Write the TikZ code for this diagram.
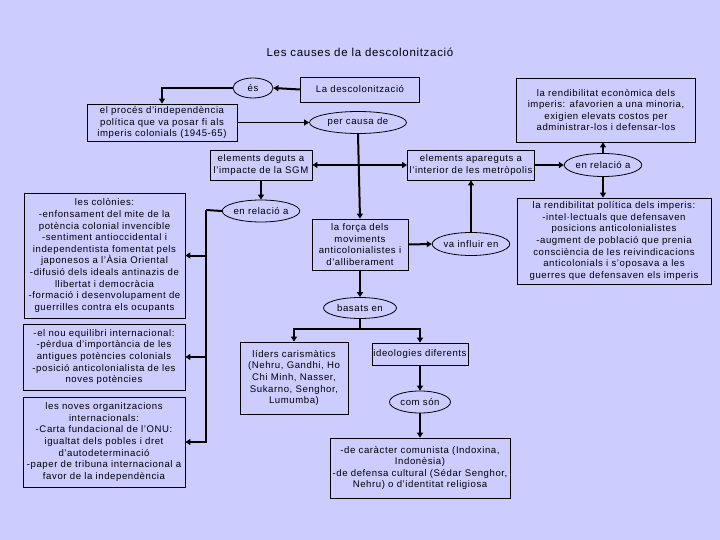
\documentclass[tikz,border=0pt]{standalone}
\usepackage{fontspec}
\setmainfont{Liberation Sans}[LetterSpace=6]
\usetikzlibrary{arrows.meta,shapes.geometric}

\definecolor{lila}{RGB}{204,204,255}
\newcommand{\lletra}{\fontsize{9.6}{11.6}\selectfont}

\tikzset{
  caixa/.style={draw, line width=0.8pt, fill=lila, align=center, inner sep=0pt, font=\lletra},
  oval/.style={draw, ellipse, line width=0.8pt, fill=lila, inner sep=0pt, font=\lletra},
  fletxa/.style={line width=2pt, -{Triangle[length=5pt,width=6pt]}},
  tronc/.style={line width=2pt},
}

\begin{document}
\begin{tikzpicture}[x=1pt,y=-1pt]
        \fill[lila] (0,0) rectangle (720,540);
        \useasboundingbox (0,0) rectangle (720,540);
        \node[font=\fontsize{11.5}{13}\selectfont] (titol) at (360,52) {Les causes de la descolonització};

        % part de dalt
        \node[oval, minimum width=40, minimum height=20] (es) at (253,88) {és};
        \node[caixa, minimum width=119, minimum height=25] (desc) at (360,89.5) {La descolonització};
        \node[caixa, minimum width=150, minimum height=37] (proces) at (162,122.5)
            {el procés d'independència\\política que va posar fi als\\imperis colonials (1945-65)};
        \node[oval, minimum width=97, minimum height=22] (causa) at (358,122.5) {per causa de};
        \node[caixa, minimum width=179, minimum height=64] (econ) at (606,110)
            {la rendibilitat econòmica dels\\imperis: afavorien a una minoria,\\exigien elevats costos per\\administrar-los i defensar-los};

        \node[caixa, minimum width=102, minimum height=30] (deguts) at (261,165) {elements deguts a\\l'impacte de la SGM};
        \node[caixa, minimum width=127, minimum height=30] (apareguts) at (471,165) {elements apareguts a\\l'interior de les metròpolis};
        \node[oval, minimum width=77, minimum height=23] (relB) at (603,165) {en relació a};
        \node[caixa, minimum width=194, minimum height=86] (polit) at (614,241)
            {la rendibilitat política dels imperis:\\-intel·lectuals que defensaven\\posicions anticolonialistes\\-augment de població que prenia\\consciència de les reivindicacions\\anticolonials i s'oposava a les\\guerres que defensaven els imperis};

        % centre
        \node[oval, minimum width=68, minimum height=22] (relA) at (261,211) {en relació a};
        \node[caixa, minimum width=96, minimum height=51] (forca) at (360,244.5)
            {la força dels\\moviments\\anticolonialistes i\\d'alliberament};
        \node[oval, minimum width=67, minimum height=23] (influir) at (471,244) {va influir en};
        \node[oval, minimum width=73, minimum height=21] (basats) at (360,308) {basats en};
        \node[caixa, minimum width=108, minimum height=72] (lider) at (294,378)
            {líders carismàtics\\(Nehru, Gandhi, Ho\\Chi Minh, Nasser,\\Sukarno, Senghor,\\Lumumba)};
        \node[caixa, minimum width=96, minimum height=22] (ideo) at (420,354) {ideologies diferents};
        \node[oval, minimum width=61, minimum height=22] (comso) at (420,402) {com són};
        \node[caixa, minimum width=180, minimum height=60] (tipus) at (420,468)
            {-de caràcter comunista (Indoxina,\\Indonèsia)\\-de defensa cultural (Sédar Senghor,\\Nehru) o d'identitat religiosa};

        % esquerra
        \node[caixa, minimum width=161, minimum height=125] (colonies) at (104.5,255.5)
            {les colònies:\\-enfonsament del mite de la\\potència colonial invencible\\-sentiment antioccidental i\\independentista fomentat pels\\japonesos a l'Àsia Oriental\\-difusió dels ideals antinazis de\\llibertat i democràcia\\-formació i desenvolupament de\\guerrilles contra els ocupants};
        \node[caixa, minimum width=162, minimum height=66] (equilibri) at (104,357)
            {-el nou equilibri internacional:\\-pèrdua d'importància de les\\antigues potències colonials\\-posició anticolonialista de les\\noves potències};
        \node[caixa, minimum width=162, minimum height=90] (organ) at (104,442)
            {les noves organitzacions\\internacionals:\\-Carta fundacional de l'ONU:\\igualtat dels pobles i dret\\d'autodeterminació\\-paper de tribuna internacional a\\favor de la independència};

        \coordinate (forquilla) at (360,329);
        \coordinate (branca) at (206,210);

        % connectors
        \draw[fletxa] (desc.west) -- (es.east);
        \draw[fletxa] (es.west) -| (proces.north);
        \draw[line width=0.8pt, -{Triangle[length=5pt,width=6pt]}] (proces.east) -- (causa.west);
        \draw[fletxa] (causa.south) -- (forca.north);
        \draw[fletxa, {Triangle[length=5pt,width=6pt]}-{Triangle[length=5pt,width=6pt]}] (deguts.east) -- (apareguts.west);
        \draw[fletxa] (apareguts.east) -- (relB.west);
        \draw[fletxa] (relB.north) -- (relB.north |- econ.south);
        \draw[fletxa] (relB.south) -- (relB.south |- polit.north);
        \draw[fletxa] (influir.north) -- (apareguts.south);
        \draw[fletxa] (forca.east) -- (influir.west);
        \draw[fletxa] (forca.south) -- (basats.north);
        \draw[tronc] (basats.south) -- (forquilla);
        \draw[fletxa] (forquilla) -| (lider.north);
        \draw[fletxa] (forquilla) -| (ideo.north);
        \draw[fletxa] (ideo.south) -- (comso.north);
        \draw[fletxa] (comso.south) -- (tipus.north);
        \draw[fletxa] (deguts.south) -- (relA.north);
        \draw[tronc] (relA.west) -- (branca);
        \draw[fletxa] (branca) |- (colonies.east);
        \draw[fletxa] (branca) |- (equilibri.east);
        \draw[fletxa] (branca) |- (organ.east);
    \end{tikzpicture}
\end{document}
